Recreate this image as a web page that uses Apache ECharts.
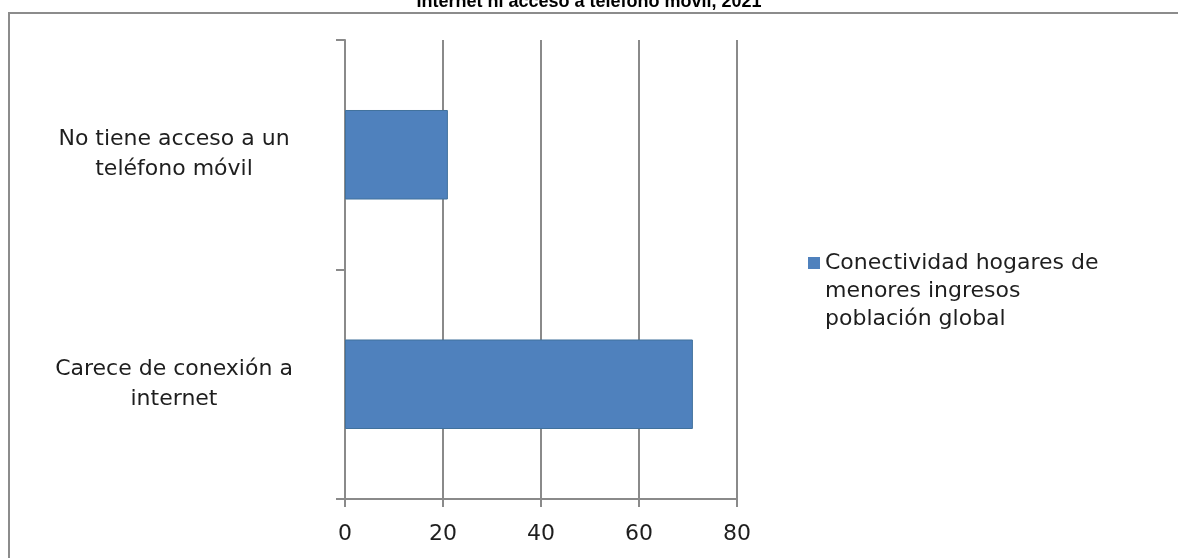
<!DOCTYPE html>
<html>
<head>
<meta charset="utf-8">
<title>Conectividad hogares de menores ingresos</title>
<script src="https://cdn.jsdelivr.net/npm/echarts@6/dist/echarts.min.js"></script>
<style>
  html, body { margin: 0; padding: 0; background: #ffffff; }
  #chart { width: 1178px; height: 558px; }
</style>
</head>
<body>
<div id="chart"></div>
<script>
// Categories (bottom to top, as a category y-axis lists them)
const categories = [
  'Carece de conexión a\ninternet',
  'No tiene acceso a un\nteléfono móvil'
];
// Share of lower-income households (%)
const values = [71, 21];
const seriesName = 'Conectividad hogares de\nmenores ingresos\npoblación global';
const titleText = 'Internet ni acceso a teléfono móvil, 2021';
const axisMin = 0, axisMax = 80, axisStep = 20;

const AXIS_GREY = '#8a8a8a';
const TEXT = '#1e1e1e';
const BAR_BLUE = '#4f81bd';
const FONT = 'DejaVu Sans';

const chart = echarts.init(document.getElementById('chart'));
chart.setOption({
  backgroundColor: '#ffffff',
  animation: false,
  title: {
    text: titleText,
    left: 'center',
    top: -7,
    padding: 0,
    textStyle: {
      fontFamily: 'Liberation Sans',
      fontWeight: 'bold',
      fontSize: 18,
      lineHeight: 18,
      color: '#000000'
    }
  },
  graphic: [{
    type: 'rect',
    z: -1,
    shape: { x: 9, y: 13, width: 1200, height: 600 },
    style: { fill: 'none', stroke: '#8c8c8c', lineWidth: 2 },
    silent: true
  }],
  legend: {
    left: 803,
    top: 188,
    icon: 'rect',
    itemWidth: 12,
    itemHeight: 12,
    itemGap: 6,
    itemStyle: { borderWidth: 0 },
    // two leading blank lines keep the swatch beside the first line of the name
    formatter: function (name) { return '\n\n' + name; },
    textStyle: {
      fontFamily: FONT,
      fontSize: 22,
      lineHeight: 28,
      color: TEXT
    },
    data: [seriesName]
  },
  grid: { left: 345, right: 441, top: 40, bottom: 59, containLabel: false },
  xAxis: {
    type: 'value',
    min: axisMin,
    max: axisMax,
    interval: axisStep,
    axisLine: { show: true, lineStyle: { color: AXIS_GREY, width: 2 } },
    axisTick: { show: true, length: 8, lineStyle: { color: AXIS_GREY, width: 2 } },
    splitLine: { show: true, lineStyle: { color: AXIS_GREY, width: 2 } },
    axisLabel: {
      margin: 24,
      fontFamily: FONT,
      fontSize: 22,
      color: TEXT
    }
  },
  yAxis: {
    type: 'category',
    data: categories,
    axisLine: { show: true, lineStyle: { color: AXIS_GREY, width: 2 } },
    axisTick: { show: true, length: 9, lineStyle: { color: AXIS_GREY, width: 2 } },
    axisLabel: {
      align: 'center',
      margin: 171,
      fontFamily: FONT,
      fontSize: 22,
      lineHeight: 30,
      padding: [6, 0, 0, 0],
      color: TEXT
    }
  },
  series: [{
    name: seriesName,
    type: 'bar',
    data: values,
    barCategoryGap: '61%',
    itemStyle: { color: BAR_BLUE, borderColor: '#41719c', borderWidth: 1 }
  }]
});
</script>
</body>
</html>
